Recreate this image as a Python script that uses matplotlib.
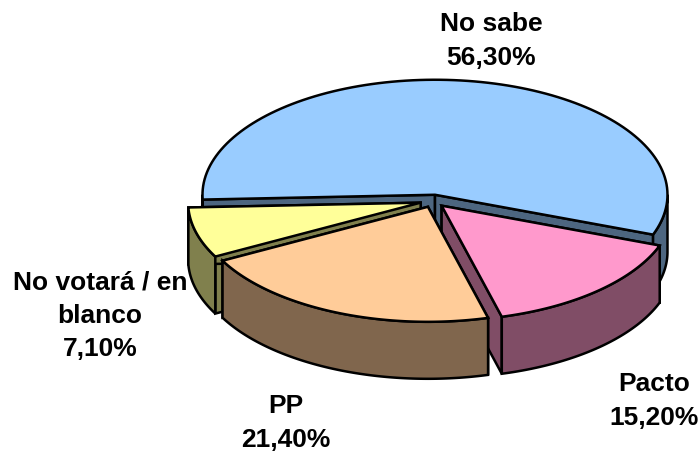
import numpy as np
import matplotlib
matplotlib.use("Agg")
import matplotlib.pyplot as plt
from matplotlib.patches import Polygon

labels = ["No sabe", "Pacto", "PP", "No votará / en\nblanco"]
values = [56.3, 15.2, 21.4, 7.1]
value_labels = ["56,30%", "15,20%", "21,40%", "7,10%"]

top_colors = ["#99CCFF", "#FF99CC", "#FFCC99", "#FFFF99"]
side_colors = ["#4D6680", "#804D66", "#80664D", "#80804D"]

# ellipse geometry, in pixels of the output
cx, cy = 433, 201
rx, ry = 232.5, 115
depth = 57
explode = 0.055
start_angle = 182.4

label_pos = [(491, 41), (654, 401), (286, 423), (100, 316)]
# draw order: back slice first, the front ones on top
draw_order = [0, 3, 1, 2]

fig = plt.figure(figsize=(6.99, 4.54), dpi=100)
ax = fig.add_axes([0, 0, 1, 1])
ax.set_xlim(0, 699)
ax.set_ylim(454, 0)
ax.axis("off")


def arc(x0, y0, a1, a2):
    t = np.radians(np.linspace(a1, a2, 120))
    return np.column_stack([x0 + rx * np.cos(t), y0 - ry * np.sin(t)])


def draw_slice(a1, a2, top, side):
    # a1 > a2, going clockwise
    mid = np.radians((a1 + a2) / 2)
    x0 = cx + explode * rx * np.cos(mid)
    y0 = cy - explode * ry * np.sin(mid)
    pts = arc(x0, y0, a1, a2)

    # the two cut walls
    for end in (pts[0], pts[-1]):
        wall = [(x0, y0), end, (end[0], end[1] + depth), (x0, y0 + depth)]
        ax.add_patch(Polygon(wall, closed=True, fc=side, ec="black", lw=1.8))

    # outer wall, only the part facing down
    for shift in (0, 360):
        lo = max(a2 + shift, 180)
        hi = min(a1 + shift, 360)
        if hi > lo:
            upper = arc(x0, y0, hi, lo)
            lower = upper[::-1] + [0, depth]
            ax.add_patch(Polygon(np.vstack([upper, lower]), closed=True,
                                 fc=side, ec="black", lw=1.8))

    face = np.vstack([[(x0, y0)], pts])
    ax.add_patch(Polygon(face, closed=True, fc=top, ec="black", lw=1.8,
                         joinstyle="miter"))


angles = [start_angle]
for v in values:
    angles.append(angles[-1] - v / sum(values) * 360)

for i in draw_order:
    draw_slice(angles[i], angles[i + 1], top_colors[i], side_colors[i])

for i in range(len(values)):
    ax.text(label_pos[i][0], label_pos[i][1], labels[i] + "\n" + value_labels[i],
            ha="center", va="center", family="Liberation Sans", weight="bold",
            fontsize=19, linespacing=1.5, color="black")

fig.savefig("out.png", dpi=100)
